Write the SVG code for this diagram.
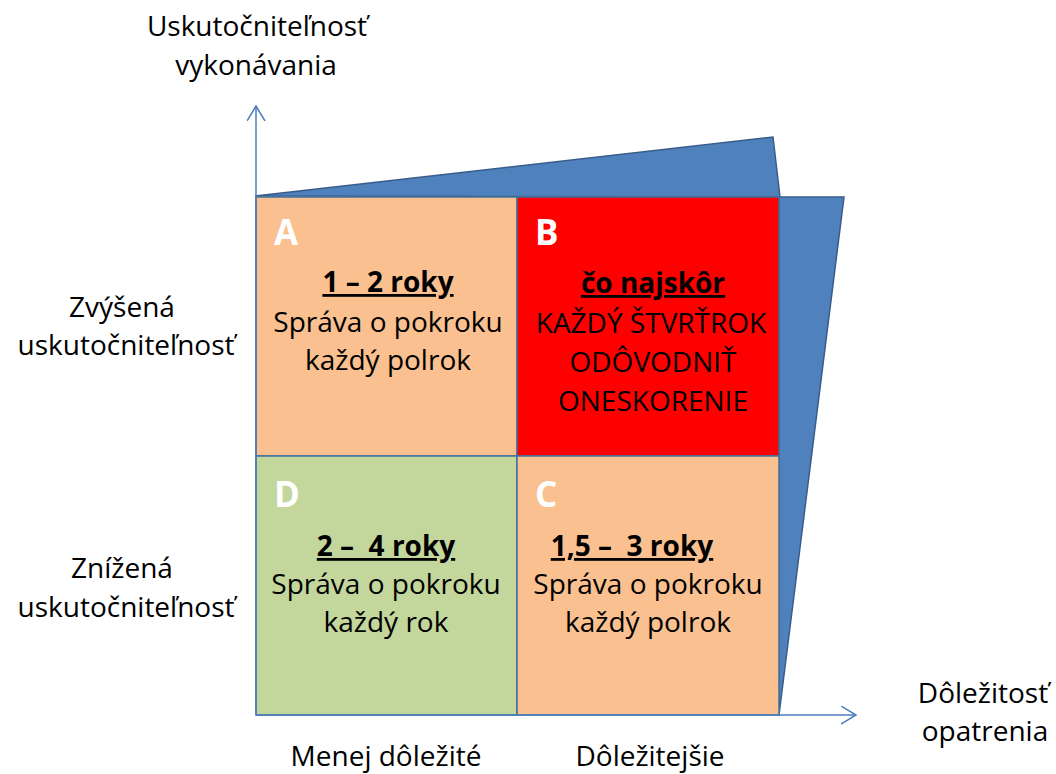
<svg xmlns="http://www.w3.org/2000/svg" width="1056" height="774" viewBox="0 0 1056 774">
<style>
text{font-family:"Open Sans","Noto Sans","Liberation Sans",sans-serif;fill:#000;text-anchor:middle}
.t{font-size:28px}
.h{font-size:28px;font-weight:bold;text-decoration:underline}
.L{font-size:35px;font-weight:bold;fill:#fff;text-anchor:start}
.ax{font-size:28px}
.q{stroke:#41719C;stroke-width:1.5}
.w{fill:#4F81BD;stroke:#385D8A;stroke-width:1.5}
.axis{stroke:#4A7EBB;stroke-width:1.5;fill:none}
</style>
<defs>
<marker id="arr" markerWidth="20" markerHeight="20" refX="15" refY="9" orient="auto" markerUnits="userSpaceOnUse">
<path d="M0,0 L15,9 L0,18" fill="none" stroke="#4A7EBB" stroke-width="1.5"/>
</marker>
</defs>
<g id="wedges">
<polygon class="w" points="255,196 773,137 780,197"/>
<polygon class="w" points="779,197 844,197 779,715"/>
</g>
<g id="quadA">
<rect class="q" x="256" y="197" width="261" height="259" fill="#FAC090"/>
<text class="L" x="274" y="245">A</text>
<text class="h" x="388" y="292">1 – 2 roky</text>
<text class="t" x="388" y="332">Správa o pokroku</text>
<text class="t" x="388" y="370">každý polrok</text>
</g>
<g id="quadB">
<rect class="q" x="517" y="197" width="262" height="259" fill="#FF0000"/>
<text class="L" x="535" y="245">B</text>
<text class="h" x="653" y="293">čo najskôr</text>
<text class="t" x="651" y="333">KAŽDÝ ŠTVRŤROK</text>
<text class="t" x="653" y="372">ODÔVODNIŤ</text>
<text class="t" x="653" y="411">ONESKORENIE</text>
</g>
<g id="quadD">
<rect class="q" x="256" y="456" width="261" height="259" fill="#C3D69B"/>
<text class="L" x="274" y="507">D</text>
<text class="h" x="386" y="556" xml:space="preserve">2 –  4 roky</text>
<text class="t" x="386" y="594">Správa o pokroku</text>
<text class="t" x="386" y="632">každý rok</text>
</g>
<g id="quadC">
<rect class="q" x="517" y="456" width="262" height="259" fill="#FAC090"/>
<text class="L" x="535" y="507">C</text>
<text class="h" x="632" y="556" xml:space="preserve">1,5 –  3 roky</text>
<text class="t" x="648" y="594">Správa o pokroku</text>
<text class="t" x="648" y="632">každý polrok</text>
</g>
<g id="connectors">
<line class="axis" x1="256" y1="715" x2="256" y2="106" marker-end="url(#arr)"/>
<line class="axis" x1="256" y1="715" x2="856" y2="715" marker-end="url(#arr)"/>
</g>
<g id="labels">
<text class="ax" x="257" y="36">Uskutočniteľnosť</text>
<text class="ax" x="256" y="75">vykonávania</text>
<text class="ax" x="122" y="317">Zvýšená</text>
<text class="ax" x="126" y="355">uskutočniteľnosť</text>
<text class="ax" x="122" y="578">Znížená</text>
<text class="ax" x="126" y="617">uskutočniteľnosť</text>
<text class="ax" x="983" y="703">Dôležitosť</text>
<text class="ax" x="985" y="741">opatrenia</text>
<text class="ax" x="386" y="766">Menej dôležité</text>
<text class="ax" x="650" y="766">Dôležitejšie</text>
</g>
</svg>
